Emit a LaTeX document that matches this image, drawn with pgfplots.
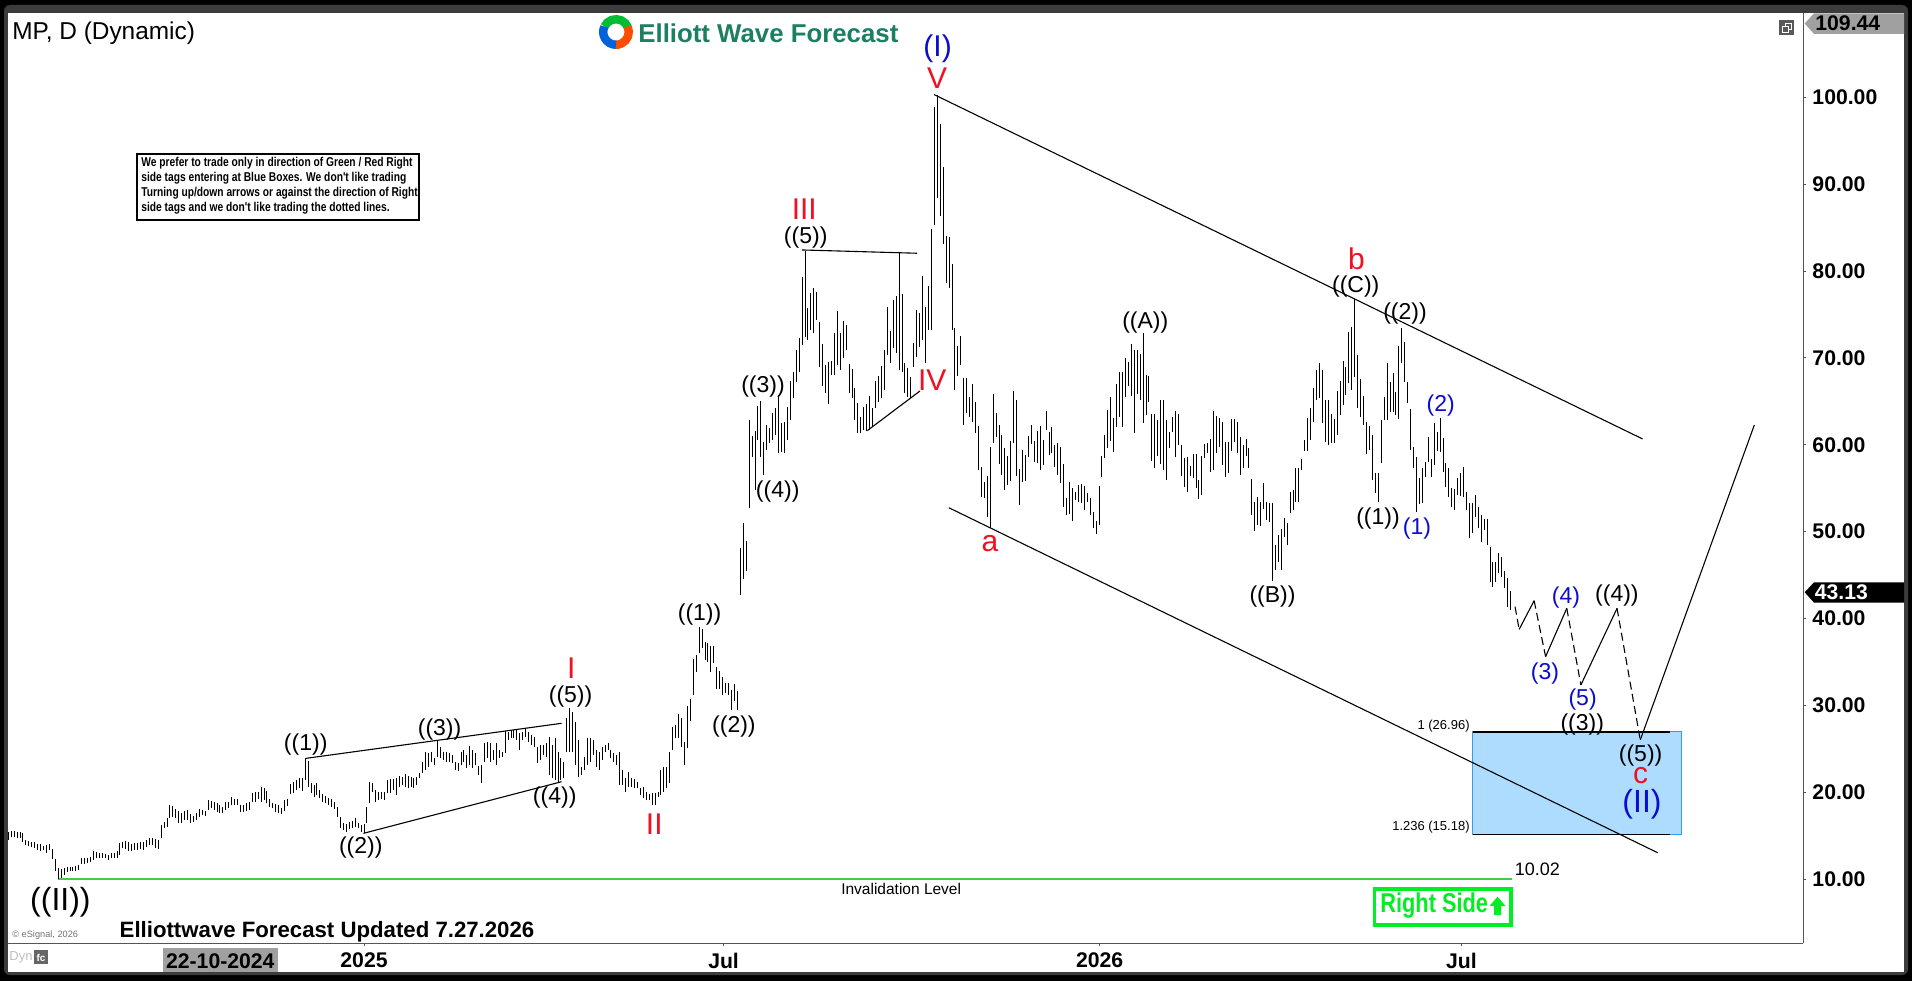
\documentclass[border=0pt]{standalone}
\usepackage{fontspec}
\setmainfont{Liberation Sans}
\newfontfamily\squeezed[FakeStretch=0.80]{Liberation Sans}
\usepackage{pgfplots}
\pgfplotsset{compat=1.18}

\definecolor{wavered}{HTML}{EE1122}
\definecolor{waveblue}{HTML}{0C0CCC}
\definecolor{boxblue}{HTML}{AEDCFF}
\definecolor{boxedge}{HTML}{2C9FEF}
\definecolor{invgreen}{HTML}{44CC44}
\definecolor{tagside}{HTML}{00EE22}
\definecolor{logogreen}{HTML}{1B7F62}
\definecolor{framegray}{HTML}{3C3C3C}
\definecolor{taggray}{HTML}{A0A0A0}
\definecolor{axisgray}{HTML}{555555}

% high-low bars: each row of a section is "low high", x comes from the row number
\pgfplotsset{
  hl/.style={draw=none, mark=none, forget plot,
    error bars/.cd, y dir=plus, y explicit, error mark=none,
    error bar style={draw=black, line width=0.5pt}},
  table/hlrows/.style={/pgfplots/table/row sep=\\, /pgfplots/table/header=false,
    /pgfplots/table/x expr=\coordindex+#1, /pgfplots/table/y index=0,
    /pgfplots/table/y error expr=\thisrowno{1}-\thisrowno{0}},
  ln/.style={black, line width=0.55pt, forget plot},
  dsh/.style={black, line width=0.55pt, dash pattern=on 4pt off 2.2pt, forget plot}
}

% labels are placed in reference pixels
\tikzset{px/.style={x=0.5pt, y=-0.5pt, yshift=490.5pt}}
\newcommand{\wavel}[3]{\node[inner sep=0pt, font=\fontsize{11.5}{12}\selectfont] at (#1,#2) {#3};}
\newcommand{\bluel}[3]{\node[inner sep=0pt, text=waveblue, font=\fontsize{11.5}{12}\selectfont] at (#1,#2) {#3};}
\newcommand{\redl}[3]{\node[inner sep=0pt, text=wavered, font=\fontsize{15}{16}\selectfont] at (#1,#2) {#3};}
\newcommand{\largel}[4]{\node[inner sep=0pt, text=#3, font=\fontsize{16}{17}\selectfont] at (#1,#2) {#4};}

\begin{document}
\begin{tikzpicture}
\path[use as bounding box] (0,0) rectangle (956pt,490.5pt);
\begin{scope}[px]
  \fill[black] (0,0) rectangle (1912,981);
  \fill[framegray, rounded corners=3pt] (4,5) rectangle (1908,975);
  \fill[white] (8,12.7) rectangle (1904,971.7);
\end{scope}

\begin{axis}[
    at={(4pt,19pt)}, anchor=south west,
    scale only axis, width=897.7pt, height=465.15pt,
    xmin=-121.09, xmax=489.59,
    ymin=2.67, ymax=109.72,
    axis x line*=bottom, axis y line*=right,
    axis line style={axisgray, line width=0.5pt},
    tick align=outside,
    tick style={axisgray, line width=0.4pt},
    major tick length=1.5pt,
    xtick={0,122.3,250.2,373.3},
    xticklabels={2025,Jul,2026,Jul},
    ytick={10,20,...,100},
    /pgf/number format/assume math mode=true,
    /pgf/number format/fixed, /pgf/number format/fixed zerofill, /pgf/number format/precision=2,
    ticklabel style={font=\bfseries\fontsize{10.6}{12}\selectfont},
    xticklabel style={yshift=0.2pt},
    yticklabel style={xshift=-0.5pt},
]

% fib box and invalidation level
\addplot[fill=boxblue, draw=boxedge, line width=0.5pt, forget plot] coordinates {(377.1,26.96) (448.2,26.96) (448.2,15.18) (377.1,15.18)} --cycle;
\addplot[ln, line width=0.6pt] coordinates {(377.1,26.96) (444.2,26.96)};
\addplot[ln, line width=0.6pt] coordinates {(377.1,15.18) (444.2,15.18)};
\addplot[invgreen, line width=0.7pt, forget plot] coordinates {(-104,10.02) (390.3,10.02)};

% before ((1))
\addplot[hl] table[hlrows=-121] {
14.5 15.5\\ 14.9 15.6\\ 14.9 15.6\\ 14.8 15.5\\ 14.8 15.4\\ 14.3 15.3\\ 13.9 14.5\\ 13.8 14.4\\ 13.7 14.3\\ 13.6 14.25\\
13.4 14.1\\ 13.3 14.05\\ 13.4 13.8\\ 13.0 13.95\\ 13.4 14.05\\ 12.3 13.45\\ 10.9 12.3\\ 10.02 11.25\\ 10.2 11.2\\ 10.5 11.3\\
10.85 11.4\\ 10.9 11.45\\ 11.0 11.45\\ 11.0 11.5\\ 11.05 11.65\\ 11.75 12.4\\ 11.75 12.4\\ 11.85 12.5\\ 12.0 12.6\\ 12.2 13.2\\
12.4 13.15\\ 12.5 13.05\\ 12.5 13.0\\ 12.4 12.9\\ 12.2 12.8\\ 12.4 13.0\\ 12.4 13.0\\ 12.4 13.2\\ 12.8 14.2\\ 13.6 14.3\\
13.45 14.45\\ 13.2 14.3\\ 13.3 14.05\\ 13.4 14.15\\ 13.4 14.15\\ 13.45 14.3\\ 13.4 14.3\\ 13.75 14.5\\ 14.0 14.75\\ 13.95 14.7\\
13.6 14.6\\ 13.45 14.5\\ 14.7 16.3\\ 15.85 16.65\\ 16.05 17.0\\ 17.0 18.5\\ 17.2 18.4\\ 17.0 18.05\\ 16.5 17.9\\ 16.45 17.6\\
16.85 17.85\\ 16.85 18.0\\ 16.5 17.5\\ 16.65 17.3\\ 16.85 17.6\\ 17.2 18.05\\ 17.4 18.0\\ 17.3 17.9\\ 18.0 19.15\\ 18.15 19.05\\
18.0 18.85\\ 17.8 18.75\\ 17.6 18.55\\ 17.6 18.35\\ 18.0 18.85\\ 18.25 18.95\\ 18.5 19.45\\ 18.55 19.2\\ 18.55 19.2\\ 17.7 18.55\\
17.8 18.5\\ 17.9 18.75\\ 18.0 18.85\\ 18.85 19.9\\ 18.95 20.0\\ 19.2 20.1\\ 18.95 20.6\\ 19.15 20.5\\ 18.75 20.2\\ 18.35 19.2\\
18.15 18.75\\ 17.7 18.65\\ 17.6 18.55\\ 17.5 18.2\\ 17.9 19.15\\ 18.45 19.2\\ 19.8 20.95\\ 19.9 21.25\\ 20.3 21.45\\ 20.5 21.65\\
20.2 21.6\\
};
% ((1)) to wave II
\addplot[hl] table[hlrows=-20] {
21.42 23.92\\ 20.66 23.65\\ 19.89 21.04\\ 19.5 20.85\\ 19.7 21.04\\ 19.31 20.27\\ 18.93 19.81\\ 18.74 19.58\\ 18.55 19.39\\ 18.35 19.2\\
18.05 18.93\\ 17.2 18.35\\ 15.86 17.2\\ 15.67 16.44\\ 15.48 16.36\\ 15.75 16.63\\ 15.86 16.7\\ 16.05 17.01\\ 15.86 16.44\\ 15.48 16.24\\
15.3 16.36\\ 16.44 18.35\\ 18.74 21.15\\ 20.08 21.12\\ 18.93 20.27\\ 19.12 20.08\\ 19.2 20.08\\ 19.12 20.08\\ 19.89 21.42\\ 19.89 21.5\\
20.27 21.5\\ 19.7 21.61\\ 20.66 21.88\\ 20.85 21.73\\ 20.66 22.11\\ 20.46 21.88\\ 20.66 21.81\\ 20.46 21.61\\ 20.85 21.81\\ 21.61 22.19\\
22.19 23.53\\ 22.57 24.68\\ 22.96 24.49\\ 23.53 24.68\\ 23.15 23.92\\ 24.11 26.03\\ 23.92 25.26\\ 23.72 24.68\\ 23.53 24.68\\ 23.53 24.57\\
23.34 24.3\\ 22.57 23.53\\ 22.46 23.34\\ 23.15 24.68\\ 23.53 24.88\\ 22.77 24.3\\ 23.15 25.34\\ 22.77 24.88\\ 23.15 24.57\\ 22.0 23.03\\
21.12 23.15\\ 23.53 25.64\\ 23.92 25.76\\ 23.53 25.64\\ 23.72 24.88\\ 23.15 25.64\\ 23.92 24.88\\ 24.11 24.68\\ 24.49 27.1\\ 26.03 26.99\\
26.22 27.18\\ 26.22 27.18\\ 26.03 27.25\\ 24.88 26.79\\ 26.03 26.99\\ 26.41 27.37\\ 25.83 26.99\\ 25.45 26.6\\ 25.26 26.41\\ 23.34 25.26\\
23.72 25.45\\ 24.3 25.45\\ 24.11 25.64\\ 22.0 26.41\\ 21.61 25.45\\ 21.42 26.22\\ 21.23 24.68\\ 21.42 23.92\\ 21.61 23.53\\ 24.68 28.52\\
24.68 29.67\\ 24.68 29.29\\ 23.15 28.14\\ 21.81 26.03\\ 22.0 22.96\\ 22.57 24.11\\ 23.15 26.22\\ 23.53 26.22\\ 24.3 26.03\\ 22.96 24.88\\
22.57 24.68\\ 23.72 25.26\\ 24.68 25.45\\ 24.88 25.64\\ 23.92 24.88\\ 23.53 24.49\\ 23.15 24.3\\ 20.85 24.68\\ 20.85 22.57\\ 20.08 21.61\\
20.66 22.38\\ 20.66 21.61\\ 20.46 21.5\\ 20.46 21.23\\ 19.7 20.46\\ 19.31 20.66\\ 19.12 20.08\\ 19.12 19.81\\ 18.55 19.89\\ 18.55 19.89\\
19.5 20.08\\ 19.7 22.57\\ 20.08 22.88\\ 20.46 22.88\\ 21.04 24.68\\ 24.88 27.56\\ 26.22 27.75\\ 26.22 29.0\\
};
% rise to ((1)) and ((2))
\addplot[hl] table[hlrows=108] {
25.26 28.52\\ 23.15 25.83\\ 25.07 29.94\\ 28.25 30.7\\ 31.2 35.3\\ 33.8 35.8\\ 36.0 39.0\\ 36.6 38.8\\ 35.2 37.35\\ 35.05 37.15\\
33.9 36.85\\ 34.85 36.85\\ 31.85 34.45\\ 31.95 34.0\\ 31.2 33.3\\ 31.4 32.55\\ 31.2 32.55\\ 29.5 31.8\\ 30.55 32.5\\ 29.5 31.7\\
42.7 48.1\\ 44.5 51.05\\ 45.5 48.9\\
};
% wave III, IV, V and a
\addplot[hl] table[hlrows=131] {
52.76 62.85\\ 58.63 61.05\\ 54.8 61.63\\ 60.55 64.46\\ 58.63 65.04\\ 56.52 60.36\\ 59.4 62.28\\ 60.17 61.9\\ 60.55 63.62\\ 61.13 64.2\\
59.09 65.73\\ 59.21 62.47\\ 59.09 62.66\\ 60.55 64.39\\ 62.85 67.34\\ 65.35 68.34\\ 67.27 70.91\\ 68.41 72.25\\ 71.49 79.27\\ 72.45 82.34\\
72.06 75.7\\ 73.21 77.43\\ 72.83 78.0\\ 74.36 77.62\\ 68.91 74.09\\ 66.77 71.6\\ 65.92 69.18\\ 64.69 69.57\\ 68.03 69.68\\ 68.03 72.83\\
69.18 75.44\\ 68.61 72.83\\ 69.95 74.28\\ 70.91 73.79\\ 65.98 69.26\\ 65.35 68.68\\ 62.85 66.5\\ 61.32 64.85\\ 61.32 63.16\\ 61.7 64.39\\
61.63 64.69\\ 61.7 65.61\\ 62.09 64.2\\ 64.2 67.34\\ 64.96 67.95\\ 65.35 69.07\\ 66.31 70.91\\ 70.33 75.82\\ 69.37 73.13\\ 71.1 76.66\\
70.53 77.12\\ 68.61 82.15\\ 68.42 77.35\\ 65.92 69.37\\ 65.54 68.8\\ 65.35 67.84\\ 68.99 71.68\\ 70.14 75.51\\ 71.29 75.13\\ 72.06 79.43\\
69.45 75.9\\ 73.21 78.27\\ 73.21 84.8\\ 85.29 98.84\\ 88.36 100.25\\ 86.33 96.92\\ 83.11 91.93\\ 78.58 84.03\\ 78.0 83.87\\ 73.21 80.81\\
66.31 73.4\\ 67.92 71.37\\ 69.18 72.52\\ 62.28 67.65\\ 63.62 67.65\\ 63.24 65.54\\ 62.66 66.96\\ 61.32 64.96\\ 57.1 62.16\\ 54.03 57.48\\
53.84 55.76\\ 51.73 56.41\\ 50.39 59.78\\
};
% a to ((B))
\addplot[hl] table[hlrows=214] {
60.24 65.84\\ 60.93 63.7\\ 57.79 62.28\\ 56.52 61.13\\ 54.79 59.59\\ 55.37 58.75\\ 55.87 60.43\\ 60.17 66.19\\ 56.45 65.15\\ 53.07 57.21\\
55.75 59.4\\ 55.87 58.82\\ 58.63 61.01\\ 60.05 62.28\\ 58.06 60.47\\ 57.86 61.62\\ 57.1 62.16\\ 57.67 60.55\\ 61.7 63.89\\ 58.82 61.51\\
59.02 62.08\\ 57.48 59.97\\ 56.52 60.24\\ 55.64 59.71\\ 52.88 57.79\\ 51.92 53.84\\ 52.03 55.68\\ 51.23 55.06\\ 53.64 54.6\\ 53.45 55.37\\
53.26 55.49\\ 52.49 55.29\\ 53.38 54.41\\ 51.92 53.84\\ 50.38 52.3\\ 49.69 51.27\\ 50.77 55.26\\ 56.33 58.71\\ 58.44 61.13\\ 59.59 64.0\\
60.47 65.46\\ 59.21 63.04\\ 62.08 66.99\\ 63.16 68.41\\ 62.08 68.41\\ 65.54 69.95\\ 66.76 69.56\\ 65.61 71.6\\ 61.39 70.91\\ 65.84 70.91\\
65.15 70.45\\ 62.54 72.82\\ 63.43 68.03\\ 64.96 67.95\\ 58.17 63.54\\ 57.37 63.54\\ 58.75 62.85\\ 57.79 65.15\\ 57.1 65.15\\ 55.95 62.85\\
59.59 61.51\\ 61.51 63.23\\ 58.63 63.89\\ 59.97 63.54\\ 56.45 59.97\\ 55.18 58.44\\ 54.53 58.63\\ 56.45 57.6\\ 56.14 58.94\\ 54.99 58.94\\
53.8 55.95\\ 54.22 58.71\\ 58.44 60.05\\ 59.02 60.17\\ 56.91 60.66\\ 57.1 63.89\\ 59.02 63.3\\ 59.71 63.04\\ 57.67 62.66\\ 56.33 60.36\\
56.71 60.36\\ 59.32 62.97\\ 60.28 62.97\\ 59.02 62.66\\ 56.52 60.93\\ 57.29 59.97\\ 58.75 60.66\\ 57.37 59.67\\ 51.92 56.06\\ 50.12 53.45\\
50.77 53.95\\ 50.65 53.45\\ 52.61 55.56\\ 51.34 53.45\\ 51.15 53.34\\
};
% ((B)) to the last bar
\addplot[hl] table[hlrows=309] {
44.32 53.34\\ 45.59 48.46\\ 46.55 49.61\\ 45.59 50.27\\ 49.35 51.53\\ 48.46 50.96\\ 52.18 54.6\\ 52.49 54.79\\ 53.45 57.29\\ 53.45 57.29\\
57.09 58.32\\ 59.32 60.55\\ 59.32 63.04\\ 60.55 64.19\\ 62.66 66.49\\ 65.15 68.6\\ 65.34 69.37\\ 62.47 68.6\\ 60.36 65.15\\ 59.97 65.15\\
60.16 63.5\\ 60.16 62.92\\ 61.12 66.22\\ 63.42 67.38\\ 64.57 69.64\\ 65.72 68.99\\ 67.07 73.01\\ 66.3 73.51\\ 67.84 76.74\\ 64.19 70.33\\
63.16 67.53\\ 62.27 65.61\\ 58.94 62.66\\ 59.4 62.2\\ 55.94 61.12\\ 54.41 56.71\\ 53.45 56.71\\ 57.94 62.85\\ 62.85 65.53\\ 62.85 69.37\\
63.81 67.26\\ 63.81 68.3\\ 63.42 66.11\\ 62.92 71.36\\ 69.37 73.4\\ 67.26 71.86\\ 64.77 67.26\\ 59.4 64.08\\ 57.29 59.78\\ 52.3 58.55\\
53.18 56.14\\ 53.26 57.29\\ 56.33 58.05\\ 58.05 60.93\\ 56.33 58.36\\ 57.67 62.47\\ 59.32 61.51\\ 59.21 63.12\\ 56.9 60.74\\ 55.18 57.94\\
54.03 57.29\\ 52.87 54.98\\ 52.49 54.87\\ 54.22 56.14\\ 54.1 56.71\\ 54.03 57.4\\ 52.49 54.6\\ 49.23 53.34\\ 49.81 53.34\\ 51.72 54.22\\
50.38 52.87\\ 48.85 51.92\\ 50.19 51.42\\ 48.46 51.42\\ 44.24 48.2\\ 43.67 46.55\\ 44.24 46.55\\ 45.2 47.5\\ 44.82 47.12\\ 43.48 45.47\\
41.37 44.63\\ 40.98 43.17\\
};

% trend lines and channel
\addplot[ln] coordinates {(-19.7,23.92) (67.2,27.95)};
\addplot[ln] coordinates {(-0.2,15.29) (67.2,21.23)};
\addplot[ln] coordinates {(148.9,82.42) (188.1,82.04)};
\addplot[ln] coordinates {(171.2,61.63) (189.1,66.19)};
\addplot[ln] coordinates {(193.9,100.3) (434.9,60.67)};
\addplot[ln] coordinates {(198.9,52.76) (440,13.06)};

% projected path
\addplot[dsh] coordinates {(391.5,41.37) (392.9,38.76)};
\addplot[ln] coordinates {(392.9,38.76) (398,42.06)};
\addplot[dsh] coordinates {(398,42.06) (401.9,35.62)};
\addplot[ln] coordinates {(401.9,35.62) (409.1,41.18)};
\addplot[dsh] coordinates {(409.1,41.18) (413.9,32.36)};
\addplot[ln] coordinates {(413.9,32.36) (426.2,41.18)};
\addplot[dsh] coordinates {(426.2,41.18) (434.1,26.03)};
\addplot[ln] coordinates {(434.1,26.03) (472.9,62.28)};
\end{axis}

\begin{scope}[px]
  % header, the y axis of this scope runs down so arc angles run clockwise
  \node[anchor=west, inner sep=0pt, font=\fontsize{12.2}{14}\selectfont] at (12,33) {MP, D (Dynamic)};
  \draw[line width=4.2pt, color=black!10!green!60!teal] (616,32) ++(-155:12.8) arc (-155:-20:12.8);
  \draw[line width=4.2pt, color=orange!60!red] (616,32) ++(-25:12.8) arc (-25:95:12.8);
  \draw[line width=4.2pt, color=blue!55!cyan!85!black] (616,32) ++(90:12.8) arc (90:205:12.8);
  \node[anchor=west, inner sep=0pt, text=logogreen, font=\bfseries\fontsize{12.9}{14}\selectfont] at (638,33) {Elliott Wave Forecast};

  % note box
  \draw[line width=1pt, fill=white] (136.5,154) rectangle (419,220);
  \node[anchor=west, inner sep=0pt, font=\squeezed\bfseries\fontsize{6.4}{7}\selectfont] at (141,163.7) {We prefer to trade only in direction of Green / Red Right};
  \node[anchor=west, inner sep=0pt, font=\squeezed\bfseries\fontsize{6.4}{7}\selectfont] at (141,178.7) {side tags entering at Blue Boxes. We don't like trading};
  \node[anchor=west, inner sep=0pt, font=\squeezed\bfseries\fontsize{6.4}{7}\selectfont] at (141,193.3) {Turning up/down arrows or against the direction of Right};
  \node[anchor=west, inner sep=0pt, font=\squeezed\bfseries\fontsize{6.4}{7}\selectfont] at (141,208) {side tags and we don't like trading the dotted lines.};

  % wave labels
  \largel{60.4}{902.3}{black}{((II))}
  \wavel{305.7}{745}{((1))}
  \wavel{360.8}{847.3}{((2))}
  \wavel{439.6}{729.3}{((3))}
  \wavel{554.7}{797.7}{((4))}
  \wavel{570.6}{696.3}{((5))}
  \redl{571.4}{668.3}{I}
  \redl{654.3}{823.7}{II}
  \wavel{699.6}{615}{((1))}
  \wavel{733.9}{726.7}{((2))}
  \wavel{763}{387}{((3))}
  \wavel{777.7}{491.7}{((4))}
  \wavel{805.7}{238}{((5))}
  \redl{804.3}{209.3}{III}
  \redl{932.3}{380}{IV}
  \redl{937}{77.7}{V}
  \node[inner sep=0pt, text=waveblue, font=\fontsize{15}{16}\selectfont] at (937.6,49) {(I)};
  \redl{990}{543.3}{a}
  \wavel{1145.3}{322.7}{((A))}
  \wavel{1272.5}{596.3}{((B))}
  \wavel{1355.7}{286.7}{((C))}
  \redl{1356.5}{258.7}{b}
  \wavel{1378}{518.3}{((1))}
  \wavel{1405}{313.3}{((2))}
  \bluel{1417}{529}{(1)}
  \bluel{1440.7}{405.7}{(2)}
  \bluel{1545}{674}{(3)}
  \bluel{1565.9}{597.3}{(4)}
  \bluel{1582.6}{700}{(5)}
  \wavel{1582.2}{724.3}{((3))}
  \wavel{1616.9}{595.7}{((4))}
  \wavel{1640.6}{755.3}{((5))}
  \redl{1640.6}{775.7}{c}
  \largel{1642}{804}{waveblue}{(II)}

  % box and level texts
  \node[anchor=east, inner sep=0pt, font=\fontsize{6.5}{8}\selectfont] at (1470,725.7) {1 (26.96)};
  \node[anchor=east, inner sep=0pt, font=\fontsize{6.5}{8}\selectfont] at (1470,827.3) {1.236 (15.18)};
  \node[inner sep=0pt, font=\fontsize{9}{10}\selectfont] at (1537.3,869.7) {10.02};
  \node[inner sep=0pt, font=\fontsize{7.75}{9}\selectfont] at (901.2,889.3) {Invalidation Level};

  % right side tag
  \draw[tagside, line width=1.6pt] (1374.5,889) rectangle (1511,925);
  \node[anchor=west, inner sep=0pt, text=tagside, font=\squeezed\bfseries\fontsize{13.6}{15}\selectfont] at (1380,906) {Right Side};
  \fill[tagside] (1497.5,896.7) -- (1505.5,906) -- (1501,906) -- (1501,915) -- (1494,915) -- (1494,906) -- (1489.6,906) -- cycle;

  % footer
  \node[inner sep=0pt, font=\bfseries\fontsize{11.1}{12}\selectfont] at (327,932) {Elliottwave Forecast Updated 7.27.2026};
  \node[anchor=west, inner sep=0pt, text=black!55, font=\fontsize{4.6}{6}\selectfont] at (12,935) {© eSignal, 2026};
  \node[anchor=west, inner sep=0pt, text=black!25, font=\fontsize{6.5}{8}\selectfont] at (9,957.7) {Dyn};
  \fill[black!60] (34,950) rectangle (48,964.3);
  \node[inner sep=0pt, text=white, font=\bfseries\fontsize{5}{6}\selectfont] at (41,957.5) {fc};
  \fill[taggray] (163,948.3) rectangle (277.6,972);
  \node[inner sep=0pt, font=\bfseries\fontsize{10.6}{12}\selectfont] at (220.3,961) {22-10-2024};

  % price tags and window button
  \fill[taggray] (1804.7,23.5) -- (1814,13.3) -- (1904,13.3) -- (1904,34) -- (1814,34) -- cycle;
  \node[anchor=west, inner sep=0pt, font=\bfseries\fontsize{10.6}{12}\selectfont] at (1815,23.5) {109.44};
  \fill[black] (1804.7,592.3) -- (1814,582.3) -- (1904,582.3) -- (1904,602.7) -- (1814,602.7) -- cycle;
  \node[anchor=west, inner sep=0pt, text=white, font=\bfseries\fontsize{10.6}{12}\selectfont] at (1814.5,592.5) {43.13};
  \fill[black!65] (1779.3,20) rectangle (1794.4,35.3);
  \draw[white, line width=0.4pt] (1785,23.5) rectangle (1791,29);
  \draw[white, line width=0.4pt, fill=black!65] (1782.5,26.5) rectangle (1788,32);
\end{scope}
\end{tikzpicture}
\end{document}
